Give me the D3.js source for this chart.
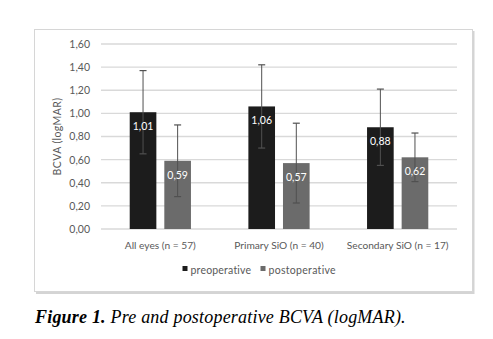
<!DOCTYPE html>
<html>
<head>
<meta charset="utf-8">
<script src="https://cdn.jsdelivr.net/npm/d3@7"></script>
<style>
  body { margin: 0; background: #fff; }
  svg { display: block; }
  .tick text { font-family: Lato, "Open Sans", sans-serif; fill: #595959; }
</style>
</head>
<body>
<svg id="chart" width="493" height="339"></svg>
<script>
// data
var categories = ["All eyes  (n = 57)", "Primary  SiO (n = 40)", "Secondary SiO (n = 17)"];
var series = ["preoperative", "postoperative"];
var preop = [1.01, 1.06, 0.88];
var postop = [0.59, 0.57, 0.62];
var preopSD = [0.36, 0.36, 0.33];
var postopSD = [0.31, 0.345, 0.21];
var yTicks = [0, 0.2, 0.4, 0.6, 0.8, 1.0, 1.2, 1.4, 1.6];

var colors = { preoperative: "#1c1c1c", postoperative: "#6b6b6b" };
var fmt = function(v) { return d3.format(".2f")(v).replace(".", ","); };

var svg = d3.select("#chart");

// chart frame with shadow
svg.append("rect").attr("x", 36).attr("y", 31).attr("width", 438.5).attr("height", 263)
    .attr("fill", "#d4d4d4");
svg.append("rect").attr("x", 34.5).attr("y", 29.5).attr("width", 438).attr("height", 262)
    .attr("fill", "#fff").attr("stroke", "#d6d6d6").attr("stroke-width", 1);

var margin = { left: 101, right: 457, top: 44, bottom: 229 };

var x = d3.scaleBand().domain(categories).range([margin.left, margin.right]).padding(0);
var xs = d3.scaleBand().domain(series).range([0, x.bandwidth()])
    .paddingInner(0.23).paddingOuter(0.83);
var y = d3.scaleLinear().domain([0, 1.6]).range([margin.bottom, margin.top]);

// grid
svg.append("g").selectAll("line").data(yTicks).enter().append("line")
    .attr("x1", margin.left).attr("x2", margin.right)
    .attr("y1", function(d) { return y(d); }).attr("y2", function(d) { return y(d); })
    .attr("stroke", "#d9d9d9").attr("stroke-width", 1.4);

// y axis labels
var yAxis = d3.axisLeft(y).tickValues(yTicks).tickSize(0).tickPadding(11).tickFormat(fmt);
svg.append("g").attr("transform", "translate(" + margin.left + ",0)")
    .call(yAxis)
    .call(function(g) { g.select(".domain").remove(); })
    .selectAll("text").attr("font-size", 10.5).attr("font-family", "Lato, sans-serif");

svg.append("text")
    .attr("transform", "translate(61," + ((margin.top + margin.bottom) / 2) + ") rotate(-90)")
    .attr("text-anchor", "middle")
    .attr("font-family", "Lato, sans-serif").attr("font-size", 10.5).attr("fill", "#595959")
    .attr("letter-spacing", 0.4)
    .text("BCVA (logMAR)");

// bars
var rows = categories.map(function(c, i) {
  return [
    { cat: c, s: "preoperative", v: preop[i], sd: preopSD[i] },
    { cat: c, s: "postoperative", v: postop[i], sd: postopSD[i] }
  ];
});
var flat = [].concat.apply([], rows);

var bar = svg.append("g").selectAll("g").data(flat).enter().append("g");

bar.append("rect")
    .attr("x", function(d) { return x(d.cat) + xs(d.s); })
    .attr("y", function(d) { return y(d.v); })
    .attr("width", xs.bandwidth())
    .attr("height", function(d) { return y(0) - y(d.v); })
    .attr("fill", function(d) { return colors[d.s]; });

// error bars
var cx = function(d) { return x(d.cat) + xs(d.s) + xs.bandwidth() / 2; };
bar.append("line")
    .attr("x1", cx).attr("x2", cx)
    .attr("y1", function(d) { return y(d.v + d.sd); })
    .attr("y2", function(d) { return y(d.v - d.sd); })
    .attr("stroke", "#505050").attr("stroke-width", 1);
bar.selectAll("line.cap").data(function(d) { return [d.v + d.sd, d.v - d.sd].map(function(v) { return { d: d, v: v }; }); })
    .enter().append("line").attr("class", "cap")
    .attr("x1", function(e) { return cx(e.d) - 3.5; })
    .attr("x2", function(e) { return cx(e.d) + 3.5; })
    .attr("y1", function(e) { return y(e.v); })
    .attr("y2", function(e) { return y(e.v); })
    .attr("stroke", "#505050").attr("stroke-width", 1.2);

// value labels
bar.append("text")
    .attr("x", cx)
    .attr("y", function(d) { return y(d.v) + 18; })
    .attr("text-anchor", "middle")
    .attr("font-family", "Lato, sans-serif").attr("font-size", 10.5)
    .attr("fill", "#fff")
    .text(function(d) { return fmt(d.v); });

// category labels
svg.append("g").selectAll("text").data(categories).enter().append("text")
    .attr("x", function(d) { return x(d) + x.bandwidth() / 2; })
    .attr("y", 249)
    .attr("text-anchor", "middle")
    .attr("font-family", "Lato, sans-serif").attr("font-size", 10.2).attr("fill", "#595959")
    .text(function(d) { return d; });

// legend
var legendX = [182.5, 260.5];
var legend = svg.append("g").selectAll("g").data(series).enter().append("g")
    .attr("transform", function(d, i) { return "translate(" + legendX[i] + ",267)"; });
legend.append("rect").attr("width", 5).attr("height", 5).attr("y", -1)
    .attr("fill", function(d) { return colors[d]; });
legend.append("text").attr("x", 8).attr("y", 6.5)
    .attr("font-family", "Lato, sans-serif").attr("font-size", 10.5).attr("fill", "#595959")
    .attr("letter-spacing", function(d, i) { return i ? 0.3 : 0.2; })
    .text(function(d) { return d; });

// caption
var cap = svg.append("text").attr("x", 35).attr("y", 323)
    .attr("font-family", "'Liberation Serif', serif").attr("font-size", 18).attr("fill", "#000")
    .attr("font-style", "italic").attr("letter-spacing", 0.2);
cap.append("tspan").attr("font-weight", "bold").text("Figure 1.");
cap.append("tspan").text(" Pre and postoperative BCVA (logMAR).");
</script>
</body>
</html>
